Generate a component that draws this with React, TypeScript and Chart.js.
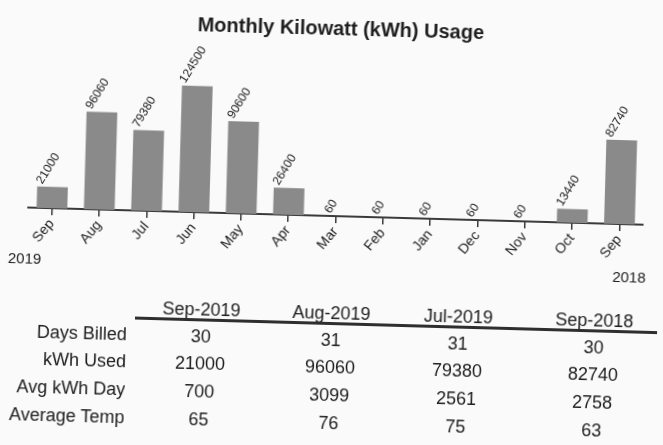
import React, { useEffect, useRef } from "react";
import { Chart, registerables } from "chart.js";

Chart.register(...registerables);

const FONT = 'Arial, "Liberation Sans", Helvetica, sans-serif';

const chartTitle = "Monthly Kilowatt (kWh) Usage";
const months = ["Sep", "Aug", "Jul", "Jun", "May", "Apr", "Mar", "Feb", "Jan", "Dec", "Nov", "Oct", "Sep"];
const kwhUsage = [21000, 96060, 79380, 124500, 90600, 26400, 60, 60, 60, 60, 60, 13440, 82740];
const firstYear = "2019";
const lastYear = "2018";

const tableColumns = ["Sep-2019", "Aug-2019", "Jul-2019", "Sep-2018"];
const rowLabels = ["Days Billed", "kWh Used", "Avg kWh Day", "Average Temp"];
const daysBilled = [30, 31, 31, 30];
const kwhUsed = [21000, 96060, 79380, 82740];
const avgKwhDay = [700, 3099, 2561, 2758];
const avgTemp = [65, 76, 75, 63];
const tableRows = [daysBilled, kwhUsed, avgKwhDay, avgTemp];

const TEXT = "#202020";

const valueLabelPlugin = {
  id: "valueLabels",
  afterDatasetsDraw(chart: any) {
    const ctx = chart.ctx;
    const meta = chart.getDatasetMeta(0);
    const ds = chart.data.datasets[0];
    const ang = (60 * Math.PI) / 180;
    ctx.save();
    ctx.font = `12px ${FONT}`;
    ctx.fillStyle = TEXT;
    ctx.textAlign = "left";
    ctx.textBaseline = "alphabetic";
    meta.data.forEach((bar: any, i: number) => {
      const txt = String(ds.data[i]);
      const L = ctx.measureText(txt).width;
      const sx = bar.x - 2 - 0.5 * L * Math.cos(ang);
      const sy = bar.y - 2;
      ctx.save();
      ctx.translate(sx, sy);
      ctx.rotate(-ang);
      ctx.fillText(txt, 0, 0);
      ctx.restore();
    });
    ctx.restore();
  },
};

const yearLabelPlugin = {
  id: "yearLabels",
  afterDraw(chart: any) {
    const ctx = chart.ctx;
    const xs = chart.scales.x;
    const n = chart.data.labels.length;
    const y = chart.chartArea.bottom + 52;
    ctx.save();
    ctx.font = `15px ${FONT}`;
    ctx.fillStyle = TEXT;
    ctx.textAlign = "center";
    ctx.textBaseline = "middle";
    ctx.fillText(firstYear, xs.getPixelForValue(0) - 26, y);
    ctx.fillText(lastYear, xs.getPixelForValue(n - 1) + 11, y + 1.5);
    ctx.restore();
  },
};

const colCenters = [204, 334, 461, 597];
const rowCenters = [339.5, 367, 394.5, 423];

export default function App() {
  const canvasRef = useRef<HTMLCanvasElement | null>(null);

  useEffect(() => {
    document.body.style.background = "#fafafa";
    const canvas = canvasRef.current;
    if (!canvas) return;
    Chart.defaults.font.family = FONT;
    const chart = new Chart(canvas, {
      type: "bar",
      data: {
        labels: months,
        datasets: [
          {
            data: kwhUsage,
            backgroundColor: "#8a8a8a",
            borderWidth: 0,
            barPercentage: 0.65,
            categoryPercentage: 1,
          },
        ],
      },
      options: {
        animation: false,
        responsive: false,
        events: [],
        layout: { padding: { left: 28, right: 20, top: 0, bottom: 36 } },
        plugins: {
          legend: { display: false },
          tooltip: { enabled: false },
          title: {
            display: true,
            text: chartTitle,
            color: "#1e1e1e",
            font: { size: 20, weight: "bold", family: FONT },
            padding: { top: 17, bottom: 38 },
          },
        },
        scales: {
          x: {
            grid: {
              display: true,
              drawOnChartArea: false,
              drawTicks: true,
              tickLength: 7,
              color: "#3a3a3a",
              lineWidth: 1.5,
              offset: false,
            },
            border: { display: true, color: "#3a3a3a", width: 2 },
            ticks: {
              color: TEXT,
              font: { size: 14, family: FONT },
              minRotation: 52,
              maxRotation: 52,
              autoSkip: false,
              padding: 1,
            },
            afterFit: (s: any) => {
              s.height = 48;
            },
          },
          y: { display: false, min: 0, max: 135000 },
        },
      } as any,
      plugins: [valueLabelPlugin, yearLabelPlugin],
    });
    return () => chart.destroy();
  }, []);

  const cell = (text: string | number, cx: number, cy: number, key: string, align: "center" | "right" = "center") => (
    <div
      key={key}
      style={{
        position: "absolute",
        left: align === "center" ? cx - 70 : cx - 160,
        width: align === "center" ? 140 : 160,
        top: cy - 11,
        height: 22,
        lineHeight: "22px",
        textAlign: align,
        fontFamily: FONT,
        fontSize: 18,
        color: TEXT,
        whiteSpace: "nowrap",
      }}
    >
      {text}
    </div>
  );

  return (
    <div
      style={{
        position: "fixed",
        left: 0,
        top: 0,
        width: 663,
        height: 445,
        background: "#fafafa",
        transform: "rotate(1.6deg)",
        transformOrigin: "331.5px 222.5px",
        overflow: "visible",
      }}
    >
      <canvas ref={canvasRef} width={663} height={300} style={{ position: "absolute", left: 0, top: 0, display: "block" }} />
      {tableColumns.map((c, i) => cell(c, colCenters[i], 312.5, "h" + i))}
      <div
        style={{
          position: "absolute",
          left: 138,
          width: 522,
          top: 322,
          height: 3,
          background: "#2e2e2e",
        }}
      />
      {rowLabels.map((r, j) => cell(r, 130, rowCenters[j], "r" + j, "right"))}
      {tableRows.map((row, j) => row.map((v, i) => cell(v, colCenters[i], rowCenters[j], `c${j}-${i}`)))}
    </div>
  );
}
